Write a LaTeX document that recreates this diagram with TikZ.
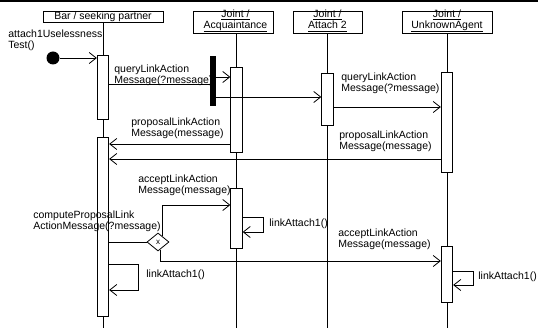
\documentclass[tikz,border=0pt]{standalone}
\usepackage{fontspec}
\setmainfont{Liberation Sans}
\usetikzlibrary{arrows.meta,shapes.geometric,calc}
\newcommand\lblfont{\fontsize{10.5}{10.3}\selectfont}
\newcommand\myul[1]{\setbox0\hbox{#1}\rlap{\rule[-2.8pt]{\wd0}{0.6pt}}\box0}
\begin{document}
\begin{tikzpicture}[x=1pt,y=-1pt, line width=0.8pt,
  every node/.style={inner sep=0pt},
  head/.style={draw, fill=white, rectangle},
  act/.style={draw, fill=white, minimum width=11.5pt},
  lbl/.style={anchor=base west, align=left, font=\lblfont},
  hdtext/.style={font=\lblfont, align=center},
  msg/.style={-{Straight Barb[length=7pt,width=11pt]}}]
\useasboundingbox (0,0) rectangle (538,328);
\draw[line width=1.6pt] (0,1) -- (538,1);
% lifeline ends
\coordinate (endbar) at (103,328);
\coordinate (endacq) at (236.5,328);
\coordinate (endatt) at (327.5,328);
\coordinate (endunk) at (447,328);
% heads
\node[head, minimum width=120pt, minimum height=11pt,
  label={[hdtext, yshift=-1pt]center:\myul{Bar / seeking partner}}] (hbar) at (103,16.5) {};
\node[head, minimum width=80pt, minimum height=22pt,
  label={[hdtext, yshift=1.5pt, xshift=2.5pt]center:\myul{Joint /}\\\myul{Acquaintance}}] (hacq) at (233,22) {};
\node[head, minimum width=69pt, minimum height=22pt,
  label={[hdtext, yshift=1.5pt]center:\myul{Joint /}\\\myul{Attach 2}}] (hatt) at (327.5,22) {};
\node[head, minimum width=90pt, minimum height=22pt,
  label={[hdtext, yshift=1.5pt]center:\myul{Joint /}\\\myul{UnknownAgent}}] (hunk) at (447,22) {};
% lifelines
\draw (hbar.south) -- (endbar);
\draw (endacq |- hacq.south) -- (endacq);
\draw (endatt |- hatt.south) -- (endatt);
\draw (endunk |- hunk.south) -- (endunk);
% activations
\node[act, minimum height=64pt] (b1) at (103,87) {};
\node[act, minimum height=179pt] (b2) at (103,226.5) {};
\node[act, minimum height=85pt] (a1) at (236.5,109.5) {};
\node[act, minimum height=60pt] (a2) at (236.5,218) {};
\node[act, minimum height=52pt] (t1) at (327.5,99) {};
\node[act, minimum height=100pt] (u1) at (447,122) {};
\node[act, minimum height=56pt] (u2) at (447,274) {};
% sync bar and start
\node[fill=black, minimum width=6pt, minimum height=50pt] (sync) at (213,81) {};
\node[circle, fill=black, minimum size=13pt] (start) at (53,58) {};
% messages
\draw[msg] (start) -- (b1.west |- start);
\draw (b1.east |- 0,84) -- (sync.west |- 0,84);
\draw[msg] (sync.east |- 0,77) -- (a1.west |- 0,77);
\draw[msg] (sync.east |- 0,97) -- (t1.west |- 0,97);
\draw[msg] (t1.east |- 0,107) -- (u1.west |- 0,107);
\draw[msg] (a1.west |- 0,144) -- (b2.east |- 0,144);
\draw[msg] (u1.west |- 0,159) -- (b2.east |- 0,159);
% decision
\node[diamond, draw, fill=white, minimum width=22pt, minimum height=18pt,
  font=\fontsize{8}{8}\selectfont] (dia) at (158,242) {x};
\draw (b2.east |- dia.west) -- (dia.west);
\draw[msg] ($(dia.north)!0.35!(dia.east)$) |- (a2.west |- 0,205);
\draw[msg] ($(dia.south)!0.2!(dia.east)$) |- (u2.west |- 0,261);
% self calls
\draw[msg] (a2.east |- 0,217) -- ++(21,0) |- (a2.east |- 0,232);
\draw[msg] (b2.east |- 0,264) -- ++(29,0) |- (b2.east |- 0,290);
\draw[msg] (u2.east |- 0,271) -- ++(20,0) |- (u2.east |- 0,285);
% labels
\node[lbl] (lstart) at (8,48.3) {attach1Uselessness\\Test()};
\node[lbl] (lq1) at (114,83.3) {queryLinkAction\\Message(?message)};
\node[lbl] (lq2) at (341,91.3) {queryLinkAction\\Message(?message)};
\node[lbl] (lp1) at (131,136.3) {proposalLinkAction\\Message(message)};
\node[lbl] (lp2) at (339,149.3) {proposalLinkAction\\Message(message)};
\node[lbl] (la1) at (138,193.3) {acceptLinkAction\\Message(message)};
\node[lbl] (lc) at (33,229.3) {computeProposalLink\\ActionMessage(?message)};
\node[lbl] (ll1) at (269,227) {linkAttach1()};
\node[lbl] (la2) at (338,247.3) {acceptLinkAction\\Message(message)};
\node[lbl] (ll2) at (478,280) {linkAttach1()};
\node[lbl] (ll3) at (146,278) {linkAttach1()};
\end{tikzpicture}
\end{document}
